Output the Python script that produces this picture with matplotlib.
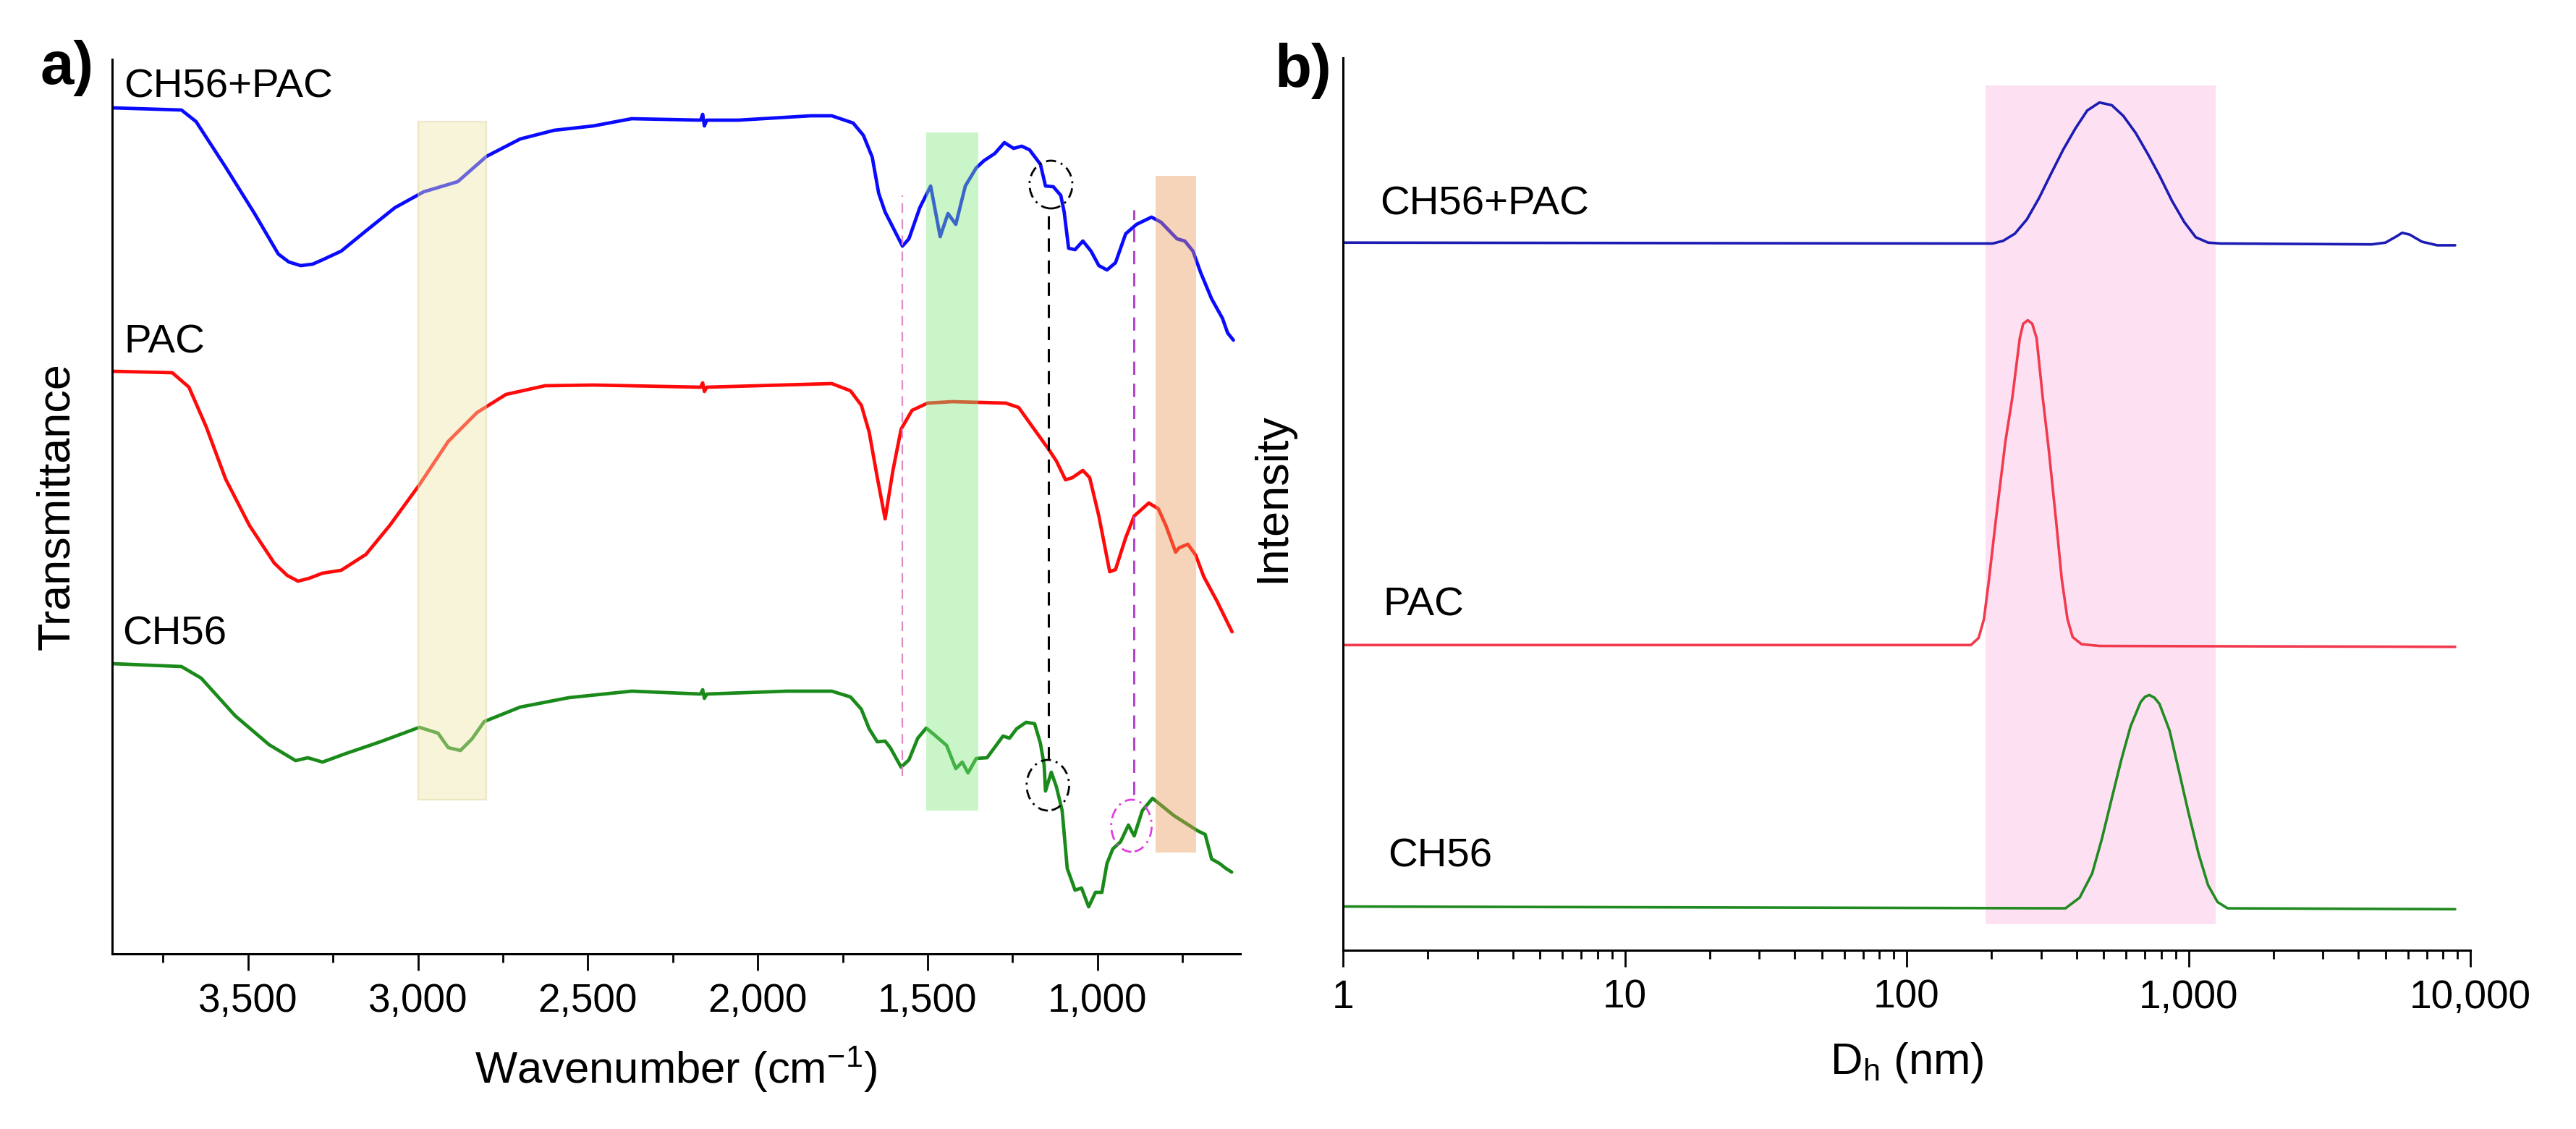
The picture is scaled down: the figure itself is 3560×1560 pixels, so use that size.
import matplotlib
matplotlib.use("Agg")
import matplotlib.pyplot as plt
from matplotlib.patches import Rectangle, Ellipse
from matplotlib.ticker import FixedLocator, FuncFormatter, NullFormatter

plt.rcParams['font.family'] = ['Liberation Sans', 'DejaVu Sans']
plt.rcParams['mathtext.default'] = 'regular'
plt.rcParams['lines.solid_joinstyle'] = 'round'
plt.rcParams['lines.solid_capstyle'] = 'round'

# ---- a) FTIR spectra (wavenumber in cm-1, transmittance in arbitrary offset units)
wn_mix = [3900, 3696, 3653, 3566, 3481, 3411, 3380, 3345, 3310, 3281, 3226, 3153,
          3068, 2983, 2883, 2798, 2699, 2599, 2484, 2371, 2168, 2162,
          2157, 2150, 2057, 1844, 1782, 1719, 1689, 1663, 1644, 1625,
          1574, 1555, 1523, 1491, 1463, 1440, 1417, 1389, 1357, 1334,
          1302, 1274, 1247, 1223, 1200, 1168, 1153, 1130, 1108, 1098,
          1085, 1066, 1043, 1019, 996, 972, 947, 917, 885, 841,
          813, 766, 743, 719, 696, 664, 632, 617, 600]
t_mix = [116.9, 116.6, 115.0, 108.7, 102.3, 96.7, 95.6, 95.1, 95.3, 95.9, 97.1, 99.9,
         103.1, 105.3, 106.7, 110.2, 112.6, 113.8, 114.4, 115.4, 115.2, 116.0,
         114.4, 115.2, 115.2, 115.8, 115.8, 114.8, 113.1, 110.1, 105.1, 102.5,
         97.8, 98.8, 103.1, 106.1, 99.1, 102.3, 100.8, 106.1, 108.6, 109.6,
         110.6, 112.1, 111.3, 111.6, 111.1, 109.1, 106.1, 106.0, 104.8, 102.5,
         97.5, 97.3, 98.5, 97.1, 95.1, 94.5, 95.5, 99.5, 100.8, 101.8,
         101.1, 98.8, 98.5, 97.1, 94.1, 90.5, 87.8, 85.8, 84.8]

wn_pac = [3900, 3723, 3674, 3623, 3566, 3496, 3423, 3385, 3353, 3320, 3281, 3226,
          3153, 3083, 2996, 2911, 2826, 2741, 2626, 2484, 2168, 2162,
          2157, 2150, 1782, 1727, 1695, 1672, 1648, 1625, 1602, 1578,
          1546, 1500, 1427, 1270, 1232, 1191, 1145, 1121, 1094, 1074,
          1043, 1023, 996, 964, 947, 917, 892, 849, 821, 798,
          770, 760, 734, 711, 687, 649, 604]
t_pac = [80.5, 80.3, 78.3, 72.8, 65.6, 59.2, 54.0, 52.3, 51.5, 51.9, 52.6, 53.0,
         55.2, 59.2, 64.8, 70.8, 74.8, 77.3, 78.5, 78.6, 78.3, 78.9,
         77.7, 78.3, 78.8, 77.8, 75.8, 72.1, 65.8, 60.1, 66.8, 72.5,
         75.1, 76.1, 76.3, 76.1, 75.5, 72.8, 69.8, 68.1, 65.5, 65.8,
         66.8, 65.8, 60.5, 52.8, 53.1, 57.5, 60.5, 62.3, 61.5, 59.1,
         55.5, 56.1, 56.6, 55.1, 52.1, 48.8, 44.5]

wn_ch = [3900, 3696, 3638, 3538, 3438, 3360, 3324, 3281, 3211, 3111,
         2996, 2941, 2911, 2875, 2841, 2805, 2699, 2556, 2371, 2168,
         2162, 2157, 2150, 1914, 1782, 1727, 1695, 1672, 1648, 1625,
         1610, 1578, 1555, 1529, 1504, 1476, 1444, 1417, 1398, 1381,
         1357, 1325, 1278, 1259, 1238, 1210, 1185, 1168, 1157, 1153,
         1136, 1121, 1104, 1089, 1066, 1047, 1026, 1006, 987, 972,
         955, 932, 909, 892, 868, 838, 775, 705, 683, 664,
         641, 622, 605]
t_ch = [40.1, 39.7, 38.1, 32.9, 28.9, 26.7, 27.1, 26.5, 27.7, 29.3,
        31.3, 30.5, 28.5, 28.1, 29.7, 32.1, 34.1, 35.4, 36.3, 35.9,
        36.5, 35.3, 35.9, 36.3, 36.3, 35.5, 33.8, 31.1, 29.3, 29.4,
        28.5, 25.8, 26.8, 29.8, 31.2, 30.1, 28.8, 25.6, 26.5, 25.0,
        27.0, 27.1, 30.1, 29.8, 31.1, 32.0, 31.8, 29.1, 26.1, 22.5,
        25.1, 23.1, 19.8, 11.8, 8.8, 9.1, 6.5, 8.5, 8.5, 12.5,
        14.5, 15.5, 17.8, 16.3, 19.8, 21.5, 19.1, 17.0, 16.5, 13.1,
        12.5, 11.8, 11.3]

# highlighted bands: (wn_high, wn_low, t_low, t_high)
band_ch = (3000, 2800, 21.3, 115.0)
band_amide = (1505, 1350, 19.8, 113.5)
band_low = (830, 710, 14.0, 107.5)

# marker lines: (wn, t_bottom, t_top)
line_pink = (1574, 24.6, 104.8)
line_black = (1144, 26.8, 103.0)
line_violet = (893, 22.0, 102.8)

# circled features: (wn, t, width_wn, height_t)
circ_top = (1137, 106.3, 126, 6.6)
circ_bot = (1146, 23.3, 125, 7.0)
circ_mag = (900, 17.7, 119, 7.2)

ftir_ticks = [3500, 3000, 2500, 2000, 1500, 1000]
ftir_minor = [3750, 3250, 2750, 2250, 1750, 1250, 750]

# ---- b) DLS size distributions (Dh in nm, intensity offset units)
d_mix = [1, 148, 202, 220, 242, 267, 295, 325, 359, 397,
         437, 483, 534, 587, 649, 718, 789, 873, 966, 1061,
         1173, 1297, 4470, 5000, 5470, 5730, 6090, 6730, 7620, 8830]
i_mix = [79.3, 79.2, 79.2, 79.5, 80.3, 81.9, 84.3, 87.0, 89.7, 92.1,
         94.1, 95.0, 94.7, 93.5, 91.6, 89.2, 86.8, 84.0, 81.6, 79.9,
         79.3, 79.2, 79.1, 79.3, 80.0, 80.4, 80.2, 79.4, 79.0, 79.0]

d_pac = [1, 169, 180, 188, 196, 207, 224, 237, 252, 259, 269, 279,
         289, 304, 319, 339, 355, 372, 388, 417, 483, 8830]
i_pac = [34.2, 34.2, 35.0, 37.1, 41.6, 48.1, 57.0, 61.9, 68.6, 70.2, 70.6, 70.2,
         68.6, 61.9, 56.2, 48.1, 41.6, 37.1, 35.1, 34.3, 34.1, 34.0]

d_ch = [1, 366, 411, 455, 492, 534, 577, 623, 676, 701, 726,
        757, 789, 857, 926, 1000, 1086, 1173, 1268, 1376, 8830]
i_ch = [4.9, 4.7, 5.9, 8.6, 12.4, 17.0, 21.3, 25.1, 27.8, 28.4, 28.6,
        28.3, 27.6, 24.6, 20.0, 15.4, 10.8, 7.3, 5.4, 4.7, 4.6]

dls_band = (190, 1250, 2.9, 96.9)
dls_ticks = [1, 10, 100, 1000, 10000]

TICK_FS = 19.8
LABEL_FS = 22.2
NAME_FS = 20.3


def style_axis(ax):
    for s in ['top', 'right']:
        ax.spines[s].set_visible(False)
    for s in ['left', 'bottom']:
        ax.spines[s].set_linewidth(1.1)
    ax.tick_params(axis='y', left=False, labelleft=False)
    ax.tick_params(axis='x', which='major', direction='out', length=8.3,
                   width=1.0, labelsize=TICK_FS, pad=6)
    ax.tick_params(axis='x', which='minor', direction='out', length=4.2, width=1.0)


fig = plt.figure(figsize=(17.8, 7.8), dpi=200)
ax1 = fig.add_axes([0.04354, 0.15513, 0.4379, 0.7923])
ax2 = fig.add_axes([0.52135, 0.15833, 0.43764, 0.7904])

# ---------------- panel a
ax1.plot(wn_mix, t_mix, color='#0a0aff', lw=1.7, zorder=2)
ax1.plot(wn_pac, t_pac, color='#ff0a0a', lw=1.7, zorder=2)
ax1.plot(wn_ch, t_ch, color='#1a8a1a', lw=1.7, zorder=2)

for (w_hi, w_lo, y0, y1), fc, ec in [(band_ch, '#f0e6a8', '#d8cf98'),
                                     (band_amide, '#80e880', 'none'),
                                     (band_low, '#e89a5a', 'none')]:
    ax1.add_patch(Rectangle((w_lo, y0), w_hi - w_lo, y1 - y0, facecolor=fc,
                            edgecolor=ec, lw=0.8, alpha=0.42, zorder=3))

for (w, y0, y1), c, lw in [(line_pink, '#e08ac8', 0.8),
                           (line_black, 'black', 1.1),
                           (line_violet, '#b048c8', 1.1)]:
    ax1.plot([w, w], [y0, y1], color=c, lw=lw, ls=(0, (6, 4)), zorder=4)

for (w, y, ew, eh), c in [(circ_top, 'black'), (circ_bot, 'black'), (circ_mag, '#e040e0')]:
    ax1.add_patch(Ellipse((w, y), ew, eh, facecolor='none', edgecolor=c,
                          lw=1.0, ls=(0, (5, 2.5, 1, 2.5)), zorder=4))

ax1.set_xlim(3900, 580)
ax1.set_ylim(0, 123.6)
ax1.xaxis.set_major_locator(FixedLocator(ftir_ticks))
ax1.xaxis.set_minor_locator(FixedLocator(ftir_minor))
ax1.xaxis.set_major_formatter(FuncFormatter(lambda v, p: f'{v:,.0f}'))
style_axis(ax1)
ax1.set_xlabel('Wavenumber (cm$^{-1}$)', fontsize=LABEL_FS, labelpad=12)
ax1.set_ylabel('Transmittance', fontsize=LABEL_FS + 0.5)
ax1.yaxis.set_label_coords(-0.030, 0.50)

ax1.text(3866, 118.4, 'CH56+PAC', fontsize=NAME_FS, va='baseline', ha='left')
ax1.text(3866, 83.1, 'PAC', fontsize=NAME_FS, va='baseline', ha='left')
ax1.text(3870, 42.8, 'CH56', fontsize=NAME_FS, va='baseline', ha='left')

# ---------------- panel b
ax2.add_patch(Rectangle((dls_band[0], dls_band[2]), dls_band[1] - dls_band[0],
                        dls_band[3] - dls_band[2], facecolor='#fde1f3',
                        edgecolor='none', zorder=1))
ax2.plot(d_mix, i_mix, color='#1c1cb4', lw=1.3, zorder=2)
ax2.plot(d_pac, i_pac, color='#f23a4e', lw=1.3, zorder=2)
ax2.plot(d_ch, i_ch, color='#218a21', lw=1.3, zorder=2)

ax2.set_xscale('log')
ax2.set_xlim(1, 10000)
ax2.set_ylim(0, 100)
ax2.xaxis.set_major_locator(FixedLocator(dls_ticks))
ax2.xaxis.set_minor_locator(FixedLocator([m * 10 ** e for e in range(4) for m in range(2, 10)]))
ax2.xaxis.set_major_formatter(FuncFormatter(lambda v, p: f'{v:,.0f}'))
ax2.xaxis.set_minor_formatter(NullFormatter())
style_axis(ax2)
ax2.set_xlabel('D$_h$ (nm)', fontsize=LABEL_FS, labelpad=12)
ax2.set_ylabel('Intensity', fontsize=LABEL_FS + 0.5)
ax2.yaxis.set_label_coords(-0.0436, 0.507)

ax2.text(1.35, 82.4, 'CH56+PAC', fontsize=NAME_FS, va='baseline', ha='left')
ax2.text(1.39, 37.5, 'PAC', fontsize=NAME_FS, va='baseline', ha='left')
ax2.text(1.44, 9.4, 'CH56', fontsize=NAME_FS, va='baseline', ha='left')

fig.text(0.0155, 0.9256, 'a)', fontsize=30, fontweight='bold', va='baseline', ha='left')
fig.text(0.4947, 0.923, 'b)', fontsize=30, fontweight='bold', va='baseline', ha='left')

fig.savefig('out.png', dpi=200)
